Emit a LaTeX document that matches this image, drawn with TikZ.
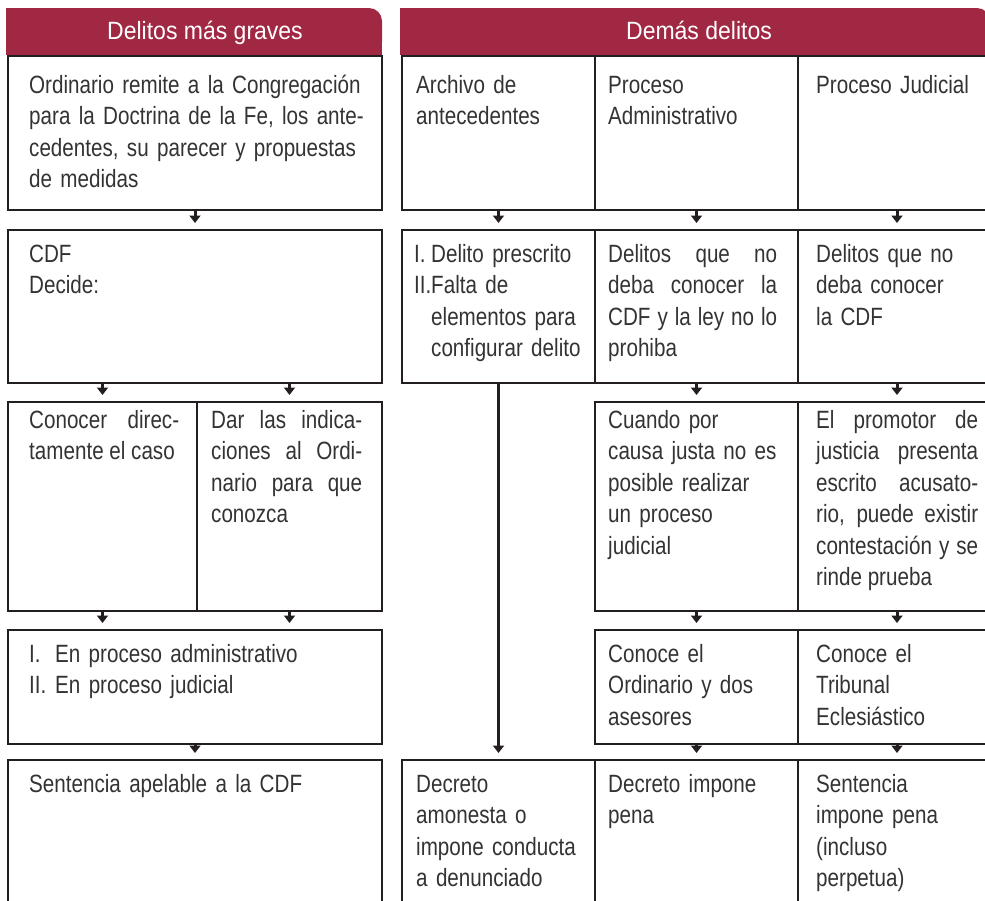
\documentclass[tikz,border=0pt]{standalone}
\usepackage{fontspec}
\setmainfont{Liberation Sans}
\newfontfamily\bodyfam{Liberation Sans}[FakeStretch=0.825]
\newfontfamily\headfam{Liberation Sans}[FakeStretch=0.92]
\usetikzlibrary{arrows.meta}
\definecolor{hdr}{HTML}{A12843}
\definecolor{ink}{HTML}{231F20}
\definecolor{txtc}{HTML}{333333}
\hyphenpenalty=10000
\exhyphenpenalty=10000
\begin{document}
\begin{tikzpicture}[x=1pt,y=-1pt,
  box/.style={draw=ink, line width=2pt, inner sep=0pt, anchor=north west},
  tx/.style={anchor=base west, inner sep=0pt, text=txtc, align=left,
    font=\bodyfam\fontsize{25pt}{31.5pt}\selectfont},
  txj/.style={tx, align=justify},
  hd/.style={anchor=base, inner sep=0pt, text=white,
    font=\headfam\fontsize{25pt}{30pt}\selectfont},
  arr/.style={draw=ink, line width=3pt, -{Triangle[width=11pt,length=7.5pt]}, shorten >=6pt}]
\useasboundingbox (0,0) rectangle (985,900);
\clip (0,0) rectangle (985,900);

% headers
\fill[hdr, rounded corners=13pt] (6,8) rectangle (382,55);
\fill[hdr] (6,8) rectangle (360,55);
\fill[hdr] (6,30) rectangle (382,55);
\fill[hdr, rounded corners=13pt] (400,8) rectangle (990,55);
\fill[hdr] (400,8) rectangle (960,55);
\fill[hdr] (400,30) rectangle (990,55);
\node[hd] (h1) at (205,39) {Delitos más graves};
\node[hd] (h2) at (699,39) {Demás delitos};

% left column boxes
\node[box, minimum width=374pt, minimum height=154pt] (l1) at (7,55) {};
\node[box, minimum width=374pt, minimum height=153pt] (l2) at (7,229) {};
\node[box, minimum width=189pt, minimum height=209pt] (l3a) at (7,401) {};
\node[box, minimum width=185pt, minimum height=209pt] (l3b) at (196,401) {};
\node[box, minimum width=374pt, minimum height=114pt] (l4) at (7,629) {};
\node[box, minimum width=374pt, minimum height=156pt] (l5) at (7,759) {};

% right column boxes
\node[box, minimum width=193pt, minimum height=154pt] (r1a) at (401,55) {};
\node[box, minimum width=203pt, minimum height=154pt] (r1b) at (594,55) {};
\node[box, minimum width=198pt, minimum height=154pt] (r1c) at (797,55) {};
\node[box, minimum width=193pt, minimum height=153pt] (r2a) at (401,229) {};
\node[box, minimum width=203pt, minimum height=153pt] (r2b) at (594,229) {};
\node[box, minimum width=198pt, minimum height=153pt] (r2c) at (797,229) {};
\node[box, minimum width=203pt, minimum height=209pt] (r3b) at (594,401) {};
\node[box, minimum width=198pt, minimum height=209pt] (r3c) at (797,401) {};
\node[box, minimum width=203pt, minimum height=114pt] (r4b) at (594,629) {};
\node[box, minimum width=198pt, minimum height=114pt] (r4c) at (797,629) {};
\node[box, minimum width=193pt, minimum height=156pt] (r5a) at (401,759) {};
\node[box, minimum width=203pt, minimum height=156pt] (r5b) at (594,759) {};
\node[box, minimum width=198pt, minimum height=156pt] (r5c) at (797,759) {};

% texts left
\node[tx, text width=345pt] (tl1) at (29,93) {Ordinario remite a la Congregación\\para la Doctrina de la Fe, los ante-\\cedentes, su parecer y propuestas\\de medidas};
\node[tx, text width=345pt] (tl2) at (29,262) {CDF\\Decide:};
\node[txj, text width=150pt] (tl3a) at (29,428) {Conocer direc-\linebreak tamente el caso};
\node[txj, text width=151pt] (tl3b) at (211,428) {Dar las indica-\linebreak ciones al Ordi-\linebreak nario para que\linebreak conozca};
\node[tx, text width=345pt] (tl4) at (29,662) {\makebox[26pt][l]{I.}En proceso administrativo\\\makebox[26pt][l]{II.}En proceso judicial};
\node[tx, text width=345pt] (tl5) at (29,792) {Sentencia apelable a la CDF};

% texts right
\node[tx, text width=175pt] (tr1a) at (416,93) {Archivo de\\antecedentes};
\node[tx, text width=185pt] (tr1b) at (608,93) {Proceso\\Administrativo};
\node[tx, text width=175pt] (tr1c) at (816,93) {Proceso Judicial};
\node[tx, text width=180pt] (tr2a) at (414,262) {\makebox[17pt][l]{I.}Delito prescrito\\\makebox[17pt][l]{II.}Falta de\\\hspace*{17pt}elementos para\\\hspace*{17pt}configurar delito};
\node[txj, text width=169pt] (tr2b) at (608,262) {Delitos que no\linebreak deba conocer la\linebreak CDF y la ley no lo\linebreak prohiba};
\node[tx, text width=165pt] (tr2c) at (816,262) {Delitos que no\\deba conocer\\la CDF};
\node[tx, text width=175pt] (tr3b) at (608,428) {Cuando por\\causa justa no es\\posible realizar\\un proceso\\judicial};
\node[txj, text width=162pt] (tr3c) at (816,428) {El promotor de\linebreak justicia presenta\linebreak escrito acusato-\linebreak rio, puede existir\linebreak contestación y se\linebreak rinde prueba};
\node[tx, text width=175pt] (tr4b) at (608,662) {Conoce el\\Ordinario y dos\\asesores};
\node[tx, text width=165pt] (tr4c) at (816,662) {Conoce el\\Tribunal\\Eclesiástico};
\node[tx, text width=175pt] (tr5a) at (416,792) {Decreto\\amonesta o\\impone conducta\\a denunciado};
\node[tx, text width=175pt] (tr5b) at (608,792) {Decreto impone\\pena};
\node[tx, text width=165pt] (tr5c) at (816,792) {Sentencia\\impone pena\\(incluso\\perpetua)};

% arrows left
\draw[arr] (l1.south) -- (l2.north);
\draw[arr] (l2.south -| l3a.north) -- (l3a.north);
\draw[arr] (l2.south -| l3b.north) -- (l3b.north);
\draw[arr] (l3a.south) -- (l3a.south |- l4.north);
\draw[arr] (l3b.south) -- (l3b.south |- l4.north);
\draw[arr] (l4.south) -- (l5.north);

% arrows right
\draw[arr] (r1a.south) -- (r2a.north);
\draw[arr] (r1b.south) -- (r2b.north);
\draw[arr] (r1c.south) -- (r2c.north);
\draw[arr] (r2b.south) -- (r3b.north);
\draw[arr] (r2c.south) -- (r3c.north);
\draw[arr] (r3b.south) -- (r4b.north);
\draw[arr] (r3c.south) -- (r4c.north);
\draw[arr] (r4b.south) -- (r5b.north);
\draw[arr] (r4c.south) -- (r5c.north);
\draw[arr] (r2a.south) -- (r5a.north);
\end{tikzpicture}
\end{document}
